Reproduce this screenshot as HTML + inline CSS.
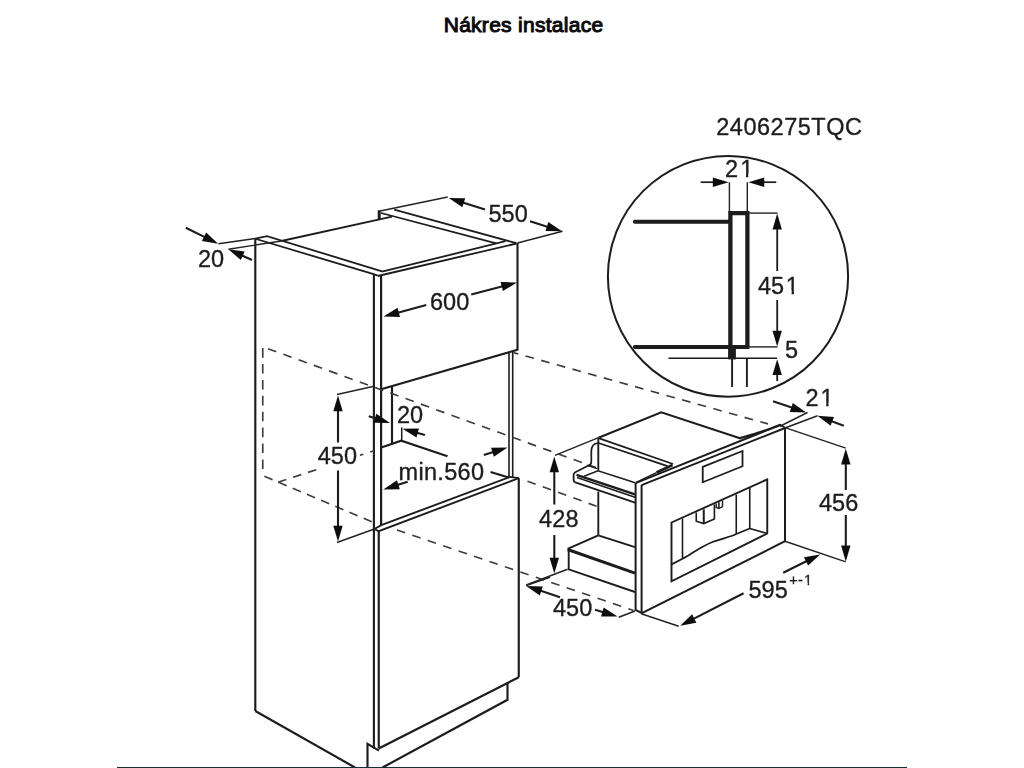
<!DOCTYPE html>
<html lang="cs"><head><meta charset="utf-8"><title>Nákres instalace</title>
<style>
html,body{margin:0;padding:0;background:#fff;}
body{width:1024px;height:768px;overflow:hidden;position:relative;font-family:"Liberation Sans",sans-serif;}
h1{position:absolute;left:443.7px;top:13.2px;white-space:nowrap;margin:0;font-family:"Liberation Sans",sans-serif;font-weight:normal;-webkit-text-stroke:1.0px #0a0a0a;font-size:21px;line-height:24px;color:#0a0a0a;letter-spacing:0.28px;}
svg{position:absolute;left:0;top:0;}
svg text{font-family:"Liberation Sans",sans-serif;fill:#1e1e1e;stroke:#1e1e1e;stroke-width:0.35px;}
.bar{position:absolute;left:117px;top:767px;width:790px;height:1px;background:#1a2d3a;}
</style></head><body>
<h1>Nákres instalace</h1>
<svg width="1024" height="768" viewBox="0 0 1024 768">
<defs><filter id="soft" x="0" y="0" width="1024" height="768" filterUnits="userSpaceOnUse"><feGaussianBlur stdDeviation="0.4"/></filter></defs>
<g filter="url(#soft)">
<path d="M255.3 711 L255.3 238.4" fill="none" stroke="#1c1c1c" stroke-width="2.15" stroke-linecap="butt" stroke-linejoin="miter"/>
<path d="M255.3 238.6 L267 236.1 L382 271.4" fill="none" stroke="#1c1c1c" stroke-width="1.8" stroke-linecap="butt" stroke-linejoin="miter"/>
<path d="M255.3 238.75 L373.6 274.2 L377.8 275.6" fill="none" stroke="#1c1c1c" stroke-width="1.8" stroke-linecap="butt" stroke-linejoin="miter"/>
<path d="M255.3 711 L355 767.5" fill="none" stroke="#1c1c1c" stroke-width="2.15" stroke-linecap="butt" stroke-linejoin="miter"/>
<path d="M282.5 240.75 L392 216.7" fill="none" stroke="#1c1c1c" stroke-width="1.8" stroke-linecap="butt" stroke-linejoin="miter"/>
<path d="M379.2 210.3 L379.2 219.3" fill="none" stroke="#1c1c1c" stroke-width="3" stroke-linecap="butt" stroke-linejoin="miter"/>
<path d="M379 211.2 L447.7 197" fill="none" stroke="#222" stroke-width="1.4" stroke-linecap="butt" stroke-linejoin="miter"/>
<path d="M394.2 209.7 L516.5 243.2" fill="none" stroke="#1c1c1c" stroke-width="1.8" stroke-linecap="butt" stroke-linejoin="miter"/>
<path d="M381 213 L496.25 243.3" fill="none" stroke="#1c1c1c" stroke-width="1.8" stroke-linecap="butt" stroke-linejoin="miter"/>
<path d="M382 271.7 L505.5 241.2" fill="none" stroke="#1c1c1c" stroke-width="1.8" stroke-linecap="butt" stroke-linejoin="miter"/>
<path d="M377.8 276 L516.5 243.5" fill="none" stroke="#1c1c1c" stroke-width="1.8" stroke-linecap="butt" stroke-linejoin="miter"/>
<path d="M517.5 243 L517.5 350.5" fill="none" stroke="#1c1c1c" stroke-width="2.15" stroke-linecap="butt" stroke-linejoin="miter"/>
<path d="M373.9 274.5 L373.9 748.5" fill="none" stroke="#1c1c1c" stroke-width="2.15" stroke-linecap="butt" stroke-linejoin="miter"/>
<path d="M381.1 276 L381.1 526" fill="none" stroke="#1c1c1c" stroke-width="2.15" stroke-linecap="butt" stroke-linejoin="miter"/>
<path d="M378.75 531 L378.75 748.5" fill="none" stroke="#1c1c1c" stroke-width="2.15" stroke-linecap="butt" stroke-linejoin="miter"/>
<path d="M381.1 389.3 L517.5 349.8" fill="none" stroke="#1c1c1c" stroke-width="2.15" stroke-linecap="butt" stroke-linejoin="miter"/>
<path d="M509 352.5 L509 477" fill="none" stroke="#1c1c1c" stroke-width="1.6" stroke-linecap="butt" stroke-linejoin="miter"/>
<path d="M512.7 351.5 L512.7 477" fill="none" stroke="#1c1c1c" stroke-width="1.6" stroke-linecap="butt" stroke-linejoin="miter"/>
<path d="M392 387 L392 444" fill="none" stroke="#1c1c1c" stroke-width="2.15" stroke-linecap="butt" stroke-linejoin="miter"/>
<path d="M381.25 447.5 L401.25 440.75 L447.5 456.25" fill="none" stroke="#1c1c1c" stroke-width="2.15" stroke-linecap="butt" stroke-linejoin="miter"/>
<path d="M490.5 472 L508.75 477.5" fill="none" stroke="#1c1c1c" stroke-width="2.15" stroke-linecap="butt" stroke-linejoin="miter"/>
<path d="M401.7 427.5 L401.7 440.75" fill="none" stroke="#1c1c1c" stroke-width="1.5" stroke-linecap="butt" stroke-linejoin="miter"/>
<path d="M374.4 529 L381.25 525.2 L510 476.9 L518.75 478.1" fill="none" stroke="#1c1c1c" stroke-width="1.9" stroke-linecap="butt" stroke-linejoin="miter"/>
<path d="M374.4 529 L378.75 531.25 L518.75 478.1" fill="none" stroke="#1c1c1c" stroke-width="1.9" stroke-linecap="butt" stroke-linejoin="miter"/>
<path d="M518.75 478.1 L518.75 677.3" fill="none" stroke="#1c1c1c" stroke-width="2.15" stroke-linecap="butt" stroke-linejoin="miter"/>
<path d="M378.75 748.5 L518.75 677.3" fill="none" stroke="#1c1c1c" stroke-width="2.15" stroke-linecap="butt" stroke-linejoin="miter"/>
<path d="M367.5 768 L367.5 743.9 L379 750.6" fill="none" stroke="#1c1c1c" stroke-width="2.15" stroke-linecap="butt" stroke-linejoin="miter"/>
<path d="M507.5 683 L507.5 699.75 L382.5 767.5" fill="none" stroke="#1c1c1c" stroke-width="2.15" stroke-linecap="butt" stroke-linejoin="miter"/>
<path d="M262.75 348.1 L262.75 470.8" fill="none" stroke="#3c3c3c" stroke-width="1.65" stroke-dasharray="9.6 6.3" stroke-dashoffset="0"/>
<path d="M268.1 348.75 L596 467.6" fill="none" stroke="#3c3c3c" stroke-width="1.65" stroke-dasharray="8.7 7.55" stroke-dashoffset="0"/>
<path d="M264.4 476.25 L375 523.1" fill="none" stroke="#3c3c3c" stroke-width="1.65" stroke-dasharray="8.8 6.6" stroke-dashoffset="0"/>
<path d="M396.9 530 L518 571.2 L633.5 610.5" fill="none" stroke="#3c3c3c" stroke-width="1.65" stroke-dasharray="8.7 7.6" stroke-dashoffset="0"/>
<path d="M278.1 482.25 L316.5 469.6" fill="none" stroke="#3c3c3c" stroke-width="1.65" stroke-dasharray="8.6 7.2" stroke-dashoffset="0"/>
<path d="M360 455.3 L374 450.7" fill="none" stroke="#3c3c3c" stroke-width="1.65" stroke-dasharray="3.5 7.2 9 9" stroke-dashoffset="0"/>
<path d="M513.5 352.6 L768 423.9" fill="none" stroke="#3c3c3c" stroke-width="1.65" stroke-dasharray="8.7 7.55" stroke-dashoffset="3.74"/>
<path d="M527.5 481.25 L596.5 506.2" fill="none" stroke="#3c3c3c" stroke-width="1.65" stroke-dasharray="8.7 7.55" stroke-dashoffset="0"/>
<path d="M185.8 227.7 L205.827 237.59" fill="none" stroke="#1c1c1c" stroke-width="2.1" stroke-linecap="butt" stroke-linejoin="miter"/>
<polygon points="218.20,243.70 201.95,240.92 206.11,232.49" fill="#111"/>
<path d="M218.5 243.7 L255.3 238.5" fill="none" stroke="#222" stroke-width="1.4" stroke-linecap="butt" stroke-linejoin="miter"/>
<path d="M252 260 L240.858 254.922" fill="none" stroke="#1c1c1c" stroke-width="2.1" stroke-linecap="butt" stroke-linejoin="miter"/>
<polygon points="228.30,249.20 244.63,251.47 240.73,260.03" fill="#111"/>
<path d="M228.5 249.2 L283 240.7" fill="none" stroke="#222" stroke-width="1.4" stroke-linecap="butt" stroke-linejoin="miter"/>
<text x="198" y="267" font-size="23.5" >20</text>
<path d="M517.5 243 L562.5 231.25" fill="none" stroke="#222" stroke-width="1.4" stroke-linecap="butt" stroke-linejoin="miter"/>
<path d="M485 209.5 L461.904 202.173" fill="none" stroke="#1c1c1c" stroke-width="2.1" stroke-linecap="butt" stroke-linejoin="miter"/>
<polygon points="448.75,198.00 465.23,198.30 462.39,207.26" fill="#111"/>
<path d="M530 221.25 L548.828 227.134" fill="none" stroke="#1c1c1c" stroke-width="2.1" stroke-linecap="butt" stroke-linejoin="miter"/>
<polygon points="562.00,231.25 545.52,231.02 548.32,222.05" fill="#111"/>
<text x="488.5" y="221.5" font-size="23.5" >550</text>
<path d="M426.25 305 L396.826 312.915" fill="none" stroke="#1c1c1c" stroke-width="2.1" stroke-linecap="butt" stroke-linejoin="miter"/>
<polygon points="383.50,316.50 397.54,307.86 399.98,316.93" fill="#111"/>
<path d="M471.25 294.5 L503.652 286.001" fill="none" stroke="#1c1c1c" stroke-width="2.1" stroke-linecap="butt" stroke-linejoin="miter"/>
<polygon points="517.00,282.50 502.91,291.05 500.52,281.96" fill="#111"/>
<text x="430" y="310" font-size="23.5" >600</text>
<path d="M337 394.5 L374 386.25" fill="none" stroke="#222" stroke-width="1.4" stroke-linecap="butt" stroke-linejoin="miter"/>
<path d="M337 542.5 L375 528.75" fill="none" stroke="#222" stroke-width="1.4" stroke-linecap="butt" stroke-linejoin="miter"/>
<path d="M338 442.5 L338 409.3" fill="none" stroke="#1c1c1c" stroke-width="2.1" stroke-linecap="butt" stroke-linejoin="miter"/>
<polygon points="338.00,395.50 342.70,411.30 333.30,411.30" fill="#111"/>
<path d="M338 470.5 L338 527.7" fill="none" stroke="#1c1c1c" stroke-width="2.1" stroke-linecap="butt" stroke-linejoin="miter"/>
<polygon points="338.00,541.50 333.30,525.70 342.70,525.70" fill="#111"/>
<text x="317.8" y="464.1" font-size="23.5" >450</text>
<path d="M368.75 416.25 L376.848 418.822" fill="none" stroke="#1c1c1c" stroke-width="2.1" stroke-linecap="butt" stroke-linejoin="miter"/>
<polygon points="390.00,423.00 373.52,422.70 376.36,413.74" fill="#111"/>
<path d="M425 435 L415.797 432.443" fill="none" stroke="#1c1c1c" stroke-width="2.1" stroke-linecap="butt" stroke-linejoin="miter"/>
<polygon points="402.50,428.75 418.98,428.45 416.47,437.51" fill="#111"/>
<text x="397" y="422.9" font-size="23.5" >20</text>
<path d="M407.7 481.8 L396.46 485.347" fill="none" stroke="#1c1c1c" stroke-width="2.1" stroke-linecap="butt" stroke-linejoin="miter"/>
<polygon points="383.30,489.50 396.95,480.26 399.78,489.23" fill="#111"/>
<path d="M483.75 455 L494.341 451.656" fill="none" stroke="#1c1c1c" stroke-width="2.1" stroke-linecap="butt" stroke-linejoin="miter"/>
<polygon points="507.50,447.50 493.85,456.74 491.02,447.78" fill="#111"/>
<text x="398.6" y="480" font-size="23.5" letter-spacing="0.3" >min.560</text>
<ellipse cx="728" cy="276.3" rx="120.1" ry="120.4" fill="none" stroke="#1c1c1c" stroke-width="2.0"/>
<text x="716.3" y="135" font-size="23.5" letter-spacing="0.5" >2406275TQC</text>
<text x="725" y="176.9" font-size="23.5" dx="0 2.1" >21</text>
<rect x="741.06" y="173.84" width="4.87" height="5.06" fill="#fff"/>
<rect x="748.31" y="173.84" width="4.69" height="5.06" fill="#fff"/>
<path d="M700.6 182.2 L714.8 182.2" fill="none" stroke="#1c1c1c" stroke-width="1.7" stroke-linecap="butt" stroke-linejoin="miter"/>
<polygon points="728.60,182.20 712.80,186.90 712.80,177.50" fill="#111"/>
<path d="M776.3 182.2 L762.2 182.2" fill="none" stroke="#1c1c1c" stroke-width="1.7" stroke-linecap="butt" stroke-linejoin="miter"/>
<polygon points="748.40,182.20 764.20,177.50 764.20,186.90" fill="#111"/>
<path d="M729.4 182.2 L729.4 212.5" fill="none" stroke="#222" stroke-width="1.4" stroke-linecap="butt" stroke-linejoin="miter"/>
<path d="M747.3 182.2 L747.3 212.5" fill="none" stroke="#222" stroke-width="1.4" stroke-linecap="butt" stroke-linejoin="miter"/>
<path d="M730.4 359 L730.4 213.1 L747.4 213.1 L747.4 348.8" fill="none" stroke="#1c1c1c" stroke-width="4.3" stroke-linecap="butt" stroke-linejoin="miter"/>
<path d="M634.8 221.75 L730 221.75" fill="none" stroke="#1c1c1c" stroke-width="4.0" stroke-linecap="round" stroke-linejoin="miter"/>
<path d="M634.8 346.9 L747.4 346.9" fill="none" stroke="#1c1c1c" stroke-width="4.0" stroke-linecap="round" stroke-linejoin="miter"/>
<path d="M749 213.1 L777.5 213.1" fill="none" stroke="#222" stroke-width="1.4" stroke-linecap="butt" stroke-linejoin="miter"/>
<path d="M749 346.9 L777.5 346.9" fill="none" stroke="#222" stroke-width="1.4" stroke-linecap="butt" stroke-linejoin="miter"/>
<rect x="728.3" y="347" width="7.6" height="12.4" fill="#1c1c1c"/>
<path d="M668.4 358.3 L777.1 358.3" fill="none" stroke="#1c1c1c" stroke-width="1.6" stroke-linecap="butt" stroke-linejoin="miter"/>
<path d="M732.1 359 L732.1 387" fill="none" stroke="#1c1c1c" stroke-width="1.9" stroke-linecap="butt" stroke-linejoin="miter"/>
<path d="M746.9 359 L746.9 387" fill="none" stroke="#1c1c1c" stroke-width="1.9" stroke-linecap="butt" stroke-linejoin="miter"/>
<path d="M777.2 271 L777.2 227.4" fill="none" stroke="#1c1c1c" stroke-width="1.8" stroke-linecap="butt" stroke-linejoin="miter"/>
<polygon points="777.20,213.60 781.90,229.40 772.50,229.40" fill="#111"/>
<path d="M777.2 300 L777.2 332.8" fill="none" stroke="#1c1c1c" stroke-width="1.8" stroke-linecap="butt" stroke-linejoin="miter"/>
<polygon points="777.20,346.60 772.50,330.80 781.90,330.80" fill="#111"/>
<text x="758" y="293.5" font-size="23.5" dx="0 0 1.7" >451</text>
<rect x="786.73" y="290.44" width="4.87" height="5.06" fill="#fff"/>
<rect x="793.98" y="290.44" width="4.69" height="5.06" fill="#fff"/>
<text x="785" y="358" font-size="23.5" >5</text>
<path d="M777.2 381 L777.2 373" fill="none" stroke="#1c1c1c" stroke-width="1.8" stroke-linecap="butt" stroke-linejoin="miter"/>
<polygon points="777.20,359.20 781.90,375.00 772.50,375.00" fill="#111"/>
<path d="M773 401.25 L793.178 408.077" fill="none" stroke="#1c1c1c" stroke-width="2.1" stroke-linecap="butt" stroke-linejoin="miter"/>
<polygon points="806.25,412.50 789.78,411.89 792.79,402.98" fill="#111"/>
<path d="M843.75 425.75 L830.396 420.663" fill="none" stroke="#1c1c1c" stroke-width="2.1" stroke-linecap="butt" stroke-linejoin="miter"/>
<polygon points="817.50,415.75 833.94,416.98 830.59,425.77" fill="#111"/>
<text x="805.5" y="405.9" font-size="23.5" dx="0 1.8" >21</text>
<rect x="821.26" y="402.84" width="4.87" height="5.06" fill="#fff"/>
<rect x="828.51" y="402.84" width="4.69" height="5.06" fill="#fff"/>
<path d="M780 426.25 L807.5 412.5" fill="none" stroke="#222" stroke-width="1.4" stroke-linecap="butt" stroke-linejoin="miter"/>
<path d="M785 428 L817.5 415.75" fill="none" stroke="#222" stroke-width="1.4" stroke-linecap="butt" stroke-linejoin="miter"/>
<path d="M785 427.6 L845.8 448.2" fill="none" stroke="#222" stroke-width="1.4" stroke-linecap="butt" stroke-linejoin="miter"/>
<path d="M785 541.25 L845.8 561.8" fill="none" stroke="#222" stroke-width="1.4" stroke-linecap="butt" stroke-linejoin="miter"/>
<path d="M845.8 490 L845.8 462.5" fill="none" stroke="#1c1c1c" stroke-width="2.1" stroke-linecap="butt" stroke-linejoin="miter"/>
<polygon points="845.80,448.70 850.50,464.50 841.10,464.50" fill="#111"/>
<path d="M845.8 515 L845.8 547.6" fill="none" stroke="#1c1c1c" stroke-width="2.1" stroke-linecap="butt" stroke-linejoin="miter"/>
<polygon points="845.80,561.40 841.10,545.60 850.50,545.60" fill="#111"/>
<text x="819" y="511" font-size="23.5" >456</text>
<path d="M641.25 613.75 L678.75 626.25" fill="none" stroke="#222" stroke-width="1.4" stroke-linecap="butt" stroke-linejoin="miter"/>
<path d="M743.6 593.2 L692.48 619.405" fill="none" stroke="#1c1c1c" stroke-width="2.1" stroke-linecap="butt" stroke-linejoin="miter"/>
<polygon points="680.20,625.70 692.12,614.31 696.40,622.67" fill="#111"/>
<path d="M783.2 572.7 L807.83 560.518" fill="none" stroke="#1c1c1c" stroke-width="2.1" stroke-linecap="butt" stroke-linejoin="miter"/>
<polygon points="820.20,554.40 808.12,565.62 803.95,557.19" fill="#111"/>
<text x="748.5" y="597.5" font-size="23.5" >595</text>
<text x="789.2" y="584.8" font-size="14.5" letter-spacing="0.4" dx="0 0 0.8" >+-1</text>
<rect x="804.30" y="582.42" width="3.29" height="4.38" fill="#fff"/>
<rect x="809.17" y="582.42" width="3.18" height="4.38" fill="#fff"/>
<path d="M555 455.3 L598.5 437.7" fill="none" stroke="#222" stroke-width="1.4" stroke-linecap="butt" stroke-linejoin="miter"/>
<path d="M526.25 585 L567.5 569.25" fill="none" stroke="#222" stroke-width="1.4" stroke-linecap="butt" stroke-linejoin="miter"/>
<path d="M554.3 504.5 L554.3 470.2" fill="none" stroke="#1c1c1c" stroke-width="2.1" stroke-linecap="butt" stroke-linejoin="miter"/>
<polygon points="554.30,456.40 559.00,472.20 549.60,472.20" fill="#111"/>
<path d="M554.3 535 L554.3 559.8" fill="none" stroke="#1c1c1c" stroke-width="2.1" stroke-linecap="butt" stroke-linejoin="miter"/>
<polygon points="554.30,573.60 549.60,557.80 559.00,557.80" fill="#111"/>
<text x="539" y="526.6" font-size="23.5" letter-spacing="0.15" >428</text>
<path d="M560 597.2 L539.348 590.346" fill="none" stroke="#1c1c1c" stroke-width="2.1" stroke-linecap="butt" stroke-linejoin="miter"/>
<polygon points="526.25,586.00 542.73,586.52 539.77,595.44" fill="#111"/>
<path d="M595 609.75 L604.282 612.535" fill="none" stroke="#1c1c1c" stroke-width="2.1" stroke-linecap="butt" stroke-linejoin="miter"/>
<polygon points="617.50,616.50 601.02,616.46 603.72,607.46" fill="#111"/>
<text x="553" y="616" font-size="23.5" >450</text>
<path d="M526.25 585.5 L550 577.25" fill="none" stroke="#222" stroke-width="1.4" stroke-linecap="butt" stroke-linejoin="miter"/>
<path d="M618.75 617.25 L635 611" fill="none" stroke="#222" stroke-width="1.4" stroke-linecap="butt" stroke-linejoin="miter"/>
<path d="M635.6 483.1 L635.6 610 L641.9 613.1 L785 541.25 L785 427.5" fill="none" stroke="#1c1c1c" stroke-width="2.0" stroke-linecap="butt" stroke-linejoin="miter"/>
<path d="M641.6 485 L641.6 613" fill="none" stroke="#1c1c1c" stroke-width="2.0" stroke-linecap="butt" stroke-linejoin="miter"/>
<path d="M635.6 483.1 L780 425 L785 427.5" fill="none" stroke="#1c1c1c" stroke-width="1.9" stroke-linecap="butt" stroke-linejoin="miter"/>
<path d="M641.6 485.2 L785 428" fill="none" stroke="#1c1c1c" stroke-width="1.9" stroke-linecap="butt" stroke-linejoin="miter"/>
<path d="M598.5 437.7 L661.25 412.25 L740 438.2" fill="none" stroke="#1c1c1c" stroke-width="2.0" stroke-linecap="butt" stroke-linejoin="miter"/>
<path d="M740 438.2 Q760 433 780 425" fill="none" stroke="#1c1c1c" stroke-width="2.4" stroke-linejoin="round" stroke-linecap="round"/>
<path d="M598.5 438.2 L673 464" fill="none" stroke="#1c1c1c" stroke-width="1.8" stroke-linecap="butt" stroke-linejoin="miter"/>
<path d="M598.5 443 L667.5 466.2" fill="none" stroke="#1c1c1c" stroke-width="1.8" stroke-linecap="butt" stroke-linejoin="miter"/>
<path d="M656.5 472.5 L672.5 465" fill="none" stroke="#1c1c1c" stroke-width="2.8" stroke-linecap="butt" stroke-linejoin="miter"/>
<path d="M635.6 482.6 L656.5 472.6" fill="none" stroke="#1c1c1c" stroke-width="1.4" stroke-linecap="butt" stroke-linejoin="miter"/>
<path d="M598.3 437.7 L598.3 470.5" fill="none" stroke="#1c1c1c" stroke-width="1.9" stroke-linecap="butt" stroke-linejoin="miter"/>
<path d="M598.3 491.5 L598.3 535.4" fill="none" stroke="#1c1c1c" stroke-width="1.9" stroke-linecap="butt" stroke-linejoin="miter"/>
<path d="M598 443 Q591.3 443.6 591.3 451.5 L591.3 462 Q591.3 465 588 465.7" fill="none" stroke="#1c1c1c" stroke-width="1.7" stroke-linejoin="round" stroke-linecap="round"/>
<path d="M588 465.7 L575.3 472.3 Q573.6 473.3 573.6 475 L573.6 480 Q573.6 481.7 575.3 482.3 L635 502.6" fill="none" stroke="#1c1c1c" stroke-width="1.8" stroke-linejoin="round" stroke-linecap="round"/>
<path d="M576.5 474.8 L635 494.4" fill="none" stroke="#1c1c1c" stroke-width="2.3" stroke-linecap="butt" stroke-linejoin="miter"/>
<path d="M577 477.6 L635 497.2" fill="none" stroke="#1c1c1c" stroke-width="1.6" stroke-linecap="butt" stroke-linejoin="miter"/>
<path d="M588.5 465.8 L597 468.6" fill="none" stroke="#1c1c1c" stroke-width="1.4" stroke-linecap="butt" stroke-linejoin="miter"/>
<path d="M584 476.3 L598 470.7 L627.5 480.3 L635 482.8" fill="none" stroke="#1c1c1c" stroke-width="1.5" stroke-linecap="butt" stroke-linejoin="miter"/>
<path d="M598.3 535.3 L567.6 548.8" fill="none" stroke="#1c1c1c" stroke-width="2.0" stroke-linecap="butt" stroke-linejoin="miter"/>
<path d="M598.3 535.3 L635 547.2" fill="none" stroke="#1c1c1c" stroke-width="1.9" stroke-linecap="butt" stroke-linejoin="miter"/>
<path d="M567.6 549.5 L635 573.2" fill="none" stroke="#1c1c1c" stroke-width="3.0" stroke-linecap="butt" stroke-linejoin="miter"/>
<path d="M568.7 550 L568.7 569.4 L635 592" fill="none" stroke="#1c1c1c" stroke-width="1.9" stroke-linecap="butt" stroke-linejoin="miter"/>
<path d="M702.75 466.9 L742.5 451 L742.5 466.25 L702.75 482.25 L702.75 466.9 L742.5 451" fill="none" stroke="#1c1c1c" stroke-width="1.8" stroke-linecap="butt" stroke-linejoin="miter"/>
<path d="M671.5 522.5 L767.25 479.4 L767.25 533.5 L671.5 581.25 L671.5 522.5 L767.25 479.4" fill="none" stroke="#1c1c1c" stroke-width="1.9" stroke-linecap="butt" stroke-linejoin="miter"/>
<path d="M682.5 518.5 L682.5 558.75" fill="none" stroke="#1c1c1c" stroke-width="1.6" stroke-linecap="butt" stroke-linejoin="miter"/>
<path d="M736.25 494.5 L736.25 534" fill="none" stroke="#1c1c1c" stroke-width="1.6" stroke-linecap="butt" stroke-linejoin="miter"/>
<path d="M749.75 488 L749.75 528.5" fill="none" stroke="#1c1c1c" stroke-width="1.6" stroke-linecap="butt" stroke-linejoin="miter"/>
<path d="M749.75 528.5 L767.25 533.5" fill="none" stroke="#1c1c1c" stroke-width="1.7" stroke-linecap="butt" stroke-linejoin="miter"/>
<path d="M671.5 564.4 L682.5 558.75 C690 555 700 547 712.5 542 C722 538.5 730 537 736.25 534 L749.75 528.5" fill="none" stroke="#1c1c1c" stroke-width="1.8" stroke-linejoin="round" stroke-linecap="round"/>
<path d="M696.25 512.5 L696.25 521.25 L703.75 523.6 L714.4 519 L714.4 504.5" fill="none" stroke="#1c1c1c" stroke-width="1.6" stroke-linecap="butt" stroke-linejoin="miter"/>
<path d="M703.75 509.3 L703.75 523.6" fill="none" stroke="#1c1c1c" stroke-width="2.0" stroke-linecap="butt" stroke-linejoin="miter"/>
<path d="M716.25 503.6 L716.25 507.5 L718.9 508.5 L722.5 506.5 L722.5 500.6" fill="none" stroke="#1c1c1c" stroke-width="1.4" stroke-linecap="butt" stroke-linejoin="miter"/>
<path d="M718.9 502.3 L718.9 508.5" fill="none" stroke="#1c1c1c" stroke-width="1.6" stroke-linecap="butt" stroke-linejoin="miter"/>
</g>
</svg>
<div class="bar"></div>
</body></html>
